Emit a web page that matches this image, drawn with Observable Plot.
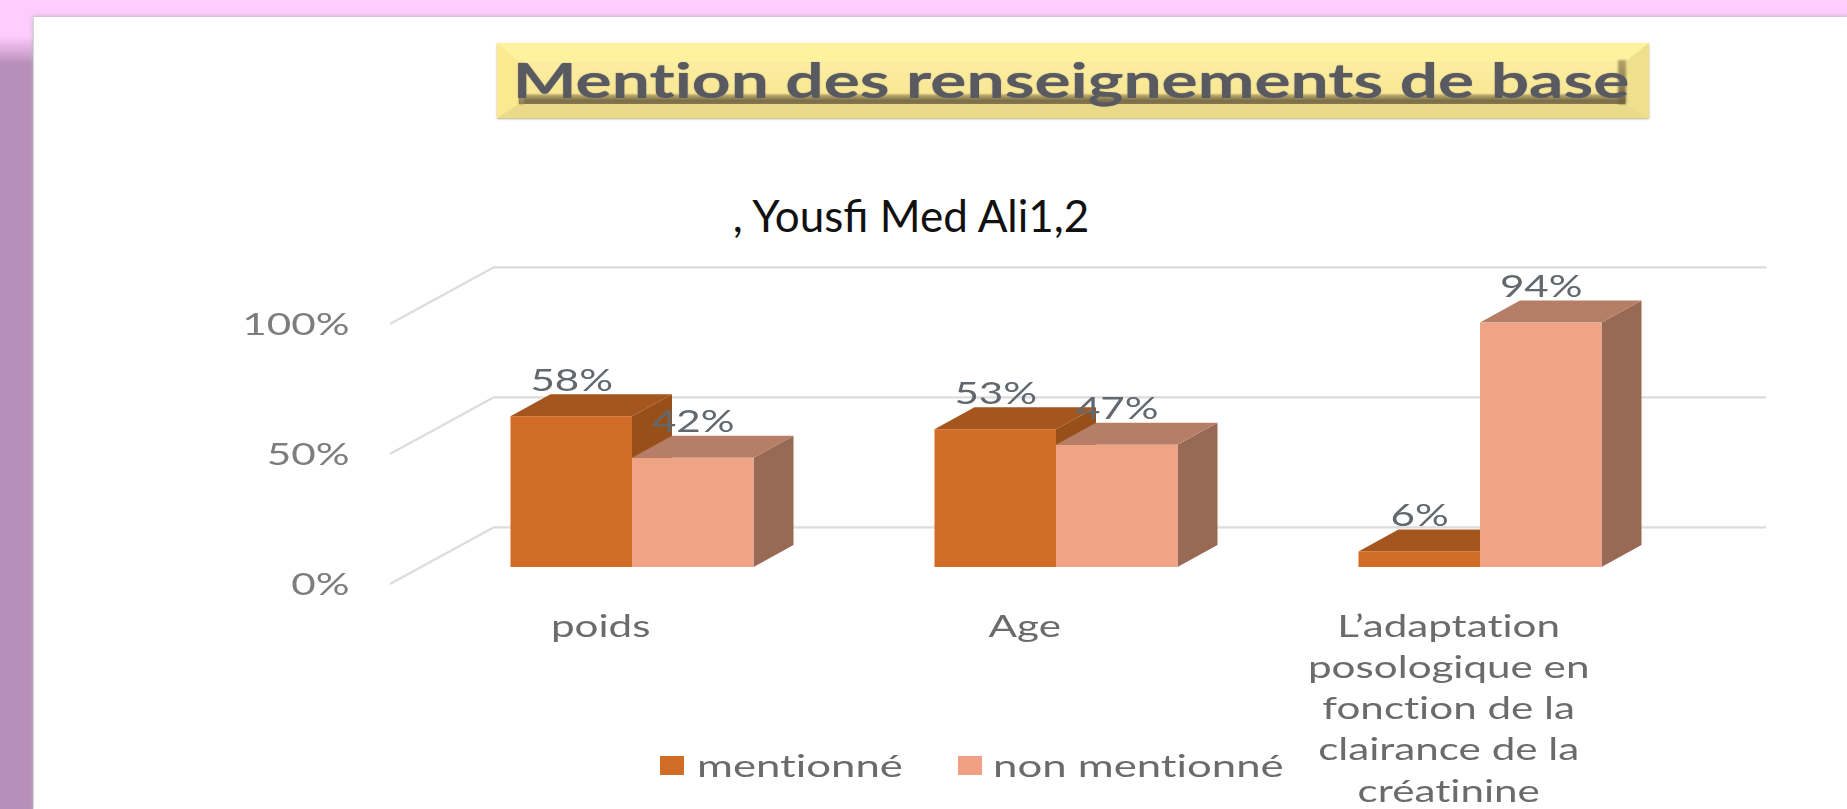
<!DOCTYPE html>
<html><head><meta charset="utf-8">
<script src="https://cdn.jsdelivr.net/npm/d3@7"></script>
<script src="https://cdn.jsdelivr.net/npm/@observablehq/plot@0.6"></script>
<style>
html,body{margin:0;padding:0;width:1847px;height:809px;overflow:hidden;background:#fff;font-family:Lato,sans-serif;font-variant-ligatures:none}
.abs{position:absolute}
#top{left:0;top:0;width:1847px;height:17px;background:#FFCCFF}
#left{left:0;top:0;width:33px;height:809px;background:linear-gradient(#FFCCFF 0,#FFCCFF 36px,#B88FB9 64px,#B88FB9 100%)}
#panel{left:34px;top:17px;width:1813px;height:792px;background:#fff;box-shadow:0 0 4px 1px #bbb}
#chart{left:0;top:0;filter:blur(.6px)}
#box{left:497px;top:43px;width:1152px;height:75px;box-sizing:border-box;border-style:solid;border-width:19px 24px 14px 22px;
 border-color:#FFF29F #EFE08E #EADB8B #FBE98F;box-shadow:0 1px 2px #b9b083;filter:blur(.7px)}
#inner{width:100%;height:100%;box-sizing:border-box;background:linear-gradient(#FCEDA2 0,#F9E793 74%,#b3a368 80%,#7b6d47 92%,#857650 100%)}
#edgeL{left:519px;top:62px;width:5px;height:42px;background:linear-gradient(#e3d088,#94855a);filter:blur(1px)}
#edgeR{left:1618px;top:60px;width:8px;height:44px;background:linear-gradient(#b3a368,#6f623f);filter:blur(.8px)}
#title{left:517px;top:44px;width:1108px;text-align:center;font-weight:700;font-size:48px;line-height:72px;color:#595960;white-space:nowrap;transform:scaleX(1.41);text-shadow:0 0 1px #888;filter:blur(.4px)}
#sub{left:731px;top:186px;width:360px;text-align:center;font-size:44px;line-height:58px;color:#111;white-space:nowrap;font-variant-ligatures:normal}
.sw{width:24px;height:19px;top:756px}
.lg{top:744px;font-size:31px;line-height:42px;color:#6b6b6b;transform:scaleX(1.41);transform-origin:left center;white-space:nowrap;filter:blur(.5px)}
</style></head><body>
<div class="abs" id="top"></div><div class="abs" id="left"></div><div class="abs" id="panel"></div>
<div class="abs" id="chart"></div>
<div class="abs" id="box"><div id="inner"></div></div>
<div class="abs" id="edgeL"></div><div class="abs" id="edgeR"></div>
<div class="abs" id="title">Mention des renseignements de base</div>
<div class="abs" id="sub">, Yousfi Med Ali1,2</div>
<div class="abs sw" style="left:660px;background:#D26D27"></div><div class="abs lg" style="left:697px">mentionné</div>
<div class="abs sw" style="left:958px;background:#F2A083"></div><div class="abs lg" style="left:993px">non mentionné</div>
<script>
const categories = ["poids", "Age", "L’adaptation\nposologique en\nfonction de la\nclairance de la\ncréatinine"];
const mentionne = [58, 53, 6];
const nonMentionne = [42, 47, 94];
const yTicks = [0, 50, 100];
const frontColors = ["#D26D27", "#EFA486"];
const topColors = ["#A5561F", "#B67E66"];
const sideColors = ["#98501A", "#986A55"];

const barW = 0.2866, depthX = 0.0943, depthY = 8.46;
const series = [mentionne, nonMentionne];
const faces = series.flatMap((vals, s) => vals.map((v, i) => {
  const x1 = i + 0.5 + (s - 1) * barW;
  return {s, i, v, x1, x2: x1 + barW};
}));
const stretch = (opts) => ({...opts, render(index, scales, values, dims, ctx, next) {
  const g = next(index, scales, values, dims, ctx);
  g.querySelectorAll("text").forEach(t => t.setAttribute("transform", (t.getAttribute("transform") || "") + " scale(1.36,1)"));
  return g;
}});
const layer = (s) => {
  const f = faces.filter(d => d.s === s);
  const sideRows = f.flatMap(d => [
    {k: d.i, x: d.x2, y1: 0, y2: d.v},
    {k: d.i, x: d.x2 + depthX, y1: depthY, y2: d.v + depthY}]);
  const topRows = f.flatMap(d => [
    {k: d.i, x1: d.x1, x2: d.x2, y: d.v},
    {k: d.i, x1: d.x1 + depthX, x2: d.x2 + depthX, y: d.v + depthY}]);
  return [
    Plot.area(sideRows, {x1: "x", x2: "x", y1: "y1", y2: "y2", z: "k", fill: sideColors[s]}),
    Plot.area(topRows, {x1: "x1", x2: "x2", y1: "y", y2: "y", z: "k", fill: topColors[s]}),
    Plot.rect(f, {x1: "x1", x2: "x2", y1: 0, y2: "v", fill: frontColors[s]})
  ];
};
const gridRows = yTicks.flatMap(v => [
  {v, x: -0.07, y: v - 6.15}, {v, x: 0.172, y: v + 15.4}, {v, x: 3.172, y: v + 15.4}]);

const plot = Plot.plot({
  width: 1847, height: 809, marginLeft: 349, marginTop: 0, marginRight: 0, marginBottom: 0,
  style: {background: "transparent", fontFamily: "Lato, sans-serif"},
  x: {type: "linear", domain: [0, 3], range: [420, 1692], axis: null},
  y: {type: "linear", domain: [0, 100], range: [567, 307], axis: null},
  marks: [
    Plot.line(gridRows, {x: "x", y: "y", z: "v", stroke: "#dcdcdc", strokeWidth: 2.2}),
    Plot.axisY(stretch({ticks: yTicks, anchor: "left", tickSize: 0, tickPadding: 0, dy: 18, label: null,
      tickFormat: d => d + "%", fontSize: 31, fill: "#7d7d7d"})),
    ...layer(0), ...layer(1),
    Plot.text(faces, stretch({x: d => (d.x1 + d.x2) / 2, y: "v", text: d => d.v + "%", dy: -36,
      fontSize: 31, fill: "#63686e"})),
    Plot.text(categories, stretch({x: (d, i) => i + 0.425, y: () => 0, text: d => d, dy: 40, lineAnchor: "top",
      lineHeight: 1.33, fontSize: 31, fill: "#6b6b6b"}))
  ]
});
document.getElementById("chart").append(plot);
</script>
</body></html>
